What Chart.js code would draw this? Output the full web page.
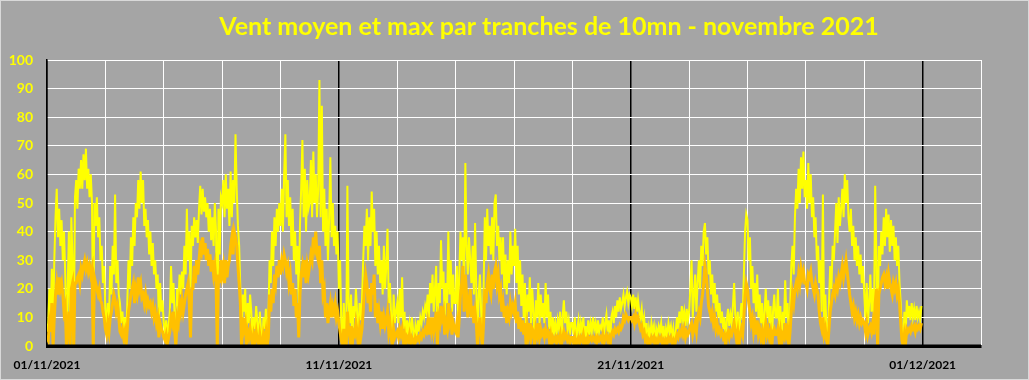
<!DOCTYPE html>
<html><head><meta charset="utf-8">
<script src="https://cdn.jsdelivr.net/npm/chart.js@4.4.0/dist/chart.umd.min.js"></script>
<style>html,body{margin:0;padding:0;background:#a5a5a5;}canvas{display:block;}</style>
</head><body>
<canvas id="c" width="1029" height="380"></canvas>
<script>
const chartTitle = 'Vent moyen et max par tranches de 10mn - novembre 2021';
const dateLabels = ['01/11/2021', '11/11/2021', '21/11/2021', '01/12/2021'];
const yTicks = [0, 10, 20, 30, 40, 50, 60, 70, 80, 90, 100];
const pointsPerDay = 24;

// Vent max (km/h), one value per hour, one line per day (1 → 30 novembre)
const ventMax = [
5,8,20,10,27,8,30,45,55,38,48,35,44,30,40,25,0,20,40,0,45,30,0,52,
58,48,62,55,65,55,67,58,69,55,62,52,60,50,0,50,42,52,38,45,30,35,22,28,
12,8,15,10,28,18,35,25,53,22,30,18,15,8,12,5,10,0,15,30,20,38,28,45,
35,50,45,58,48,61,50,58,42,48,38,44,32,40,28,36,25,30,20,25,10,22,12,16,
8,5,9,4,7,12,28,15,22,10,0,20,14,25,18,26,20,35,25,48,30,40,20,42,
35,45,38,44,36,48,56,46,55,47,52,45,50,40,48,37,45,35,50,40,0,48,32,52,
50,58,45,60,48,55,42,61,45,58,50,74,55,42,35,20,0,18,12,20,0,15,8,18,
12,0,10,6,14,8,0,12,5,0,10,6,13,0,8,30,22,40,28,45,35,48,40,50,
42,55,40,60,74,45,58,42,52,35,48,30,40,25,35,15,42,55,72,45,62,40,58,48,
50,65,45,68,50,60,45,55,93,45,84,40,55,35,48,30,45,66,38,50,35,42,32,40,
20,30,8,0,15,5,0,56,15,8,18,0,14,10,20,12,0,15,9,16,30,42,35,48,
30,45,35,54,40,48,28,40,25,35,22,30,18,35,20,28,41,15,22,10,0,18,8,12,
15,8,20,10,24,6,12,0,9,5,8,3,10,6,0,7,4,9,5,10,8,12,10,14,
12,18,10,22,15,25,12,20,28,0,22,15,37,20,26,10,22,15,40,18,30,12,25,15,
15,28,10,25,40,30,38,20,64,35,25,38,30,22,35,18,43,20,0,18,25,12,0,20,
45,30,48,35,42,32,45,30,50,53,35,42,30,38,25,38,20,32,18,30,22,40,25,35,
28,41,22,35,18,30,14,25,10,22,0,18,12,24,8,20,12,0,16,10,22,8,18,10,
15,8,22,10,18,6,12,0,10,5,8,4,9,6,12,0,10,16,8,12,6,9,4,8,
8,4,10,0,6,9,3,8,5,10,3,7,0,9,4,8,5,10,6,8,3,9,5,7,
6,10,4,8,11,5,9,0,10,12,8,14,10,16,12,17,13,15,18,14,17,19,15,18,
17,14,18,13,17,12,16,12,10,13,7,10,4,8,0,6,3,8,5,7,0,6,4,7,
5,8,3,7,0,6,4,8,5,7,3,6,0,5,10,6,12,8,14,9,12,7,13,9,
12,20,30,10,18,25,12,22,30,20,35,28,40,43,32,38,25,30,18,25,15,22,12,18,
10,15,8,12,6,10,0,9,13,7,11,8,14,22,10,6,12,0,10,15,9,25,40,46,
44,30,38,20,28,15,22,12,25,10,18,8,15,0,12,20,10,16,8,14,0,12,18,10,
10,20,6,14,0,12,8,23,10,15,0,12,28,35,25,45,55,48,62,50,66,55,68,52,
58,48,64,50,60,45,52,38,45,30,35,22,30,12,53,8,18,5,0,15,28,20,35,30,
40,50,36,52,42,48,55,45,60,50,58,45,40,48,35,42,30,38,28,35,25,32,22,28,
18,10,22,8,15,25,12,20,10,56,30,0,35,28,40,32,45,35,48,38,46,33,44,35,
42,30,38,28,35,22,15,5,0,12,3,16,10,14,9,15,10,13,9,14,10,12,9,14
];

// Vent moyen (km/h), one value per hour, one line per day
const ventMoyen = [
3,2,8,5,15,0,10,18,22,18,24,20,22,18,12,14,0,8,12,0,20,22,0,22,
22,24,25,22,27,25,28,30,27,29,26,28,25,27,0,24,22,20,18,20,16,15,12,10,
6,4,8,5,10,12,15,18,16,12,14,10,5,4,6,3,5,0,6,12,15,18,20,22,
15,20,18,24,20,22,17,18,15,18,14,16,14,15,12,14,10,12,8,10,3,8,6,5,
3,2,4,1,3,5,10,8,12,5,0,10,8,15,12,16,12,15,18,20,22,15,3,20,
20,28,22,30,25,30,35,33,38,32,36,30,34,28,32,26,30,25,28,22,0,25,22,30,
25,28,22,30,24,28,30,35,38,32,40,38,35,28,22,15,0,10,6,8,0,5,3,6,
3,0,4,2,5,2,0,4,1,0,4,2,5,0,3,18,12,20,15,25,22,28,24,30,
25,30,28,32,30,26,28,22,25,18,22,14,20,10,15,3,18,25,28,24,30,22,28,25,
28,32,30,38,35,40,32,30,35,22,30,18,20,10,15,8,12,15,10,14,12,15,10,12,
8,5,2,0,6,2,0,12,6,3,7,0,5,4,8,5,0,6,3,6,12,20,25,22,
15,20,12,22,18,25,10,15,8,12,8,12,6,10,7,9,12,5,8,3,0,6,3,4,
5,3,6,4,6,2,4,0,3,2,4,1,3,2,0,3,2,3,2,4,3,5,4,6,
5,8,4,10,6,10,5,8,12,0,10,8,14,10,12,4,8,6,15,8,10,4,8,6,
5,8,3,10,18,22,28,12,25,18,10,15,20,10,14,8,12,8,0,6,10,4,0,8,
20,15,22,25,20,18,25,20,26,28,22,25,18,20,12,15,10,14,8,12,10,15,12,14,
12,15,8,12,6,10,5,9,4,8,0,7,4,8,3,6,5,0,6,4,8,3,6,4,
5,3,6,4,5,2,4,0,3,2,3,1,3,2,4,0,3,5,3,4,2,3,1,3,
3,1,3,0,2,3,1,3,2,4,1,2,0,3,2,3,2,3,2,3,1,3,2,3,
2,4,1,3,4,2,3,0,4,5,4,6,5,6,5,7,6,7,10,9,11,10,9,10,
10,9,10,8,11,9,10,8,6,7,4,5,2,3,0,2,1,3,2,3,0,2,1,3,
2,3,1,2,0,2,1,3,2,3,1,2,0,2,4,3,5,4,6,4,6,3,5,4,
5,7,8,4,6,8,5,10,12,10,15,18,22,28,25,20,14,12,10,12,8,10,6,8,
5,6,4,5,3,4,0,4,5,3,5,4,6,8,5,2,5,0,4,6,4,10,18,22,
20,15,12,8,10,5,8,4,9,4,6,3,5,0,5,8,4,6,3,5,0,5,6,4,
4,6,2,5,0,4,3,8,4,6,0,5,12,18,15,20,22,20,25,22,27,24,26,22,
22,20,25,24,26,22,20,18,22,20,18,12,8,6,10,4,6,2,0,6,12,15,18,20,
18,22,20,24,22,25,28,24,27,30,26,22,18,15,12,14,10,12,9,11,8,10,8,9,
8,5,8,4,6,7,5,8,4,15,20,0,18,20,22,24,25,22,24,20,25,22,20,18,
22,20,22,18,20,15,8,2,0,4,1,6,5,6,5,7,6,7,5,7,6,7,6,8
];

const toPoints = arr => arr.map((v, i) => ({ x: i / pointsPerDay, y: v }));

const decor = {
  id: 'decor',
  beforeDraw(chart) {
    const { ctx, width, height } = chart;
    ctx.save();
    ctx.fillStyle = '#a5a5a5';
    ctx.fillRect(0, 0, width, height);
    ctx.strokeStyle = '#d9d9d9';
    ctx.lineWidth = 1;
    ctx.strokeRect(0.5, 0.5, width - 1, height - 1);
    ctx.restore();
  },
  afterDatasetsDraw(chart) {
    const { ctx, chartArea, scales } = chart;
    const y0 = scales.y.getPixelForValue(0);
    ctx.save();
    ctx.strokeStyle = '#000';
    ctx.lineWidth = 3;
    ctx.beginPath();
    ctx.moveTo(chartArea.left, y0);
    ctx.lineTo(chartArea.right, y0);
    ctx.stroke();
    ctx.restore();
  },
  afterDraw(chart) {
    const { ctx } = chart;
    ctx.save();
    ctx.fillStyle = '#ffff00';
    ctx.font = 'bold 25px Lato';
    ctx.textAlign = 'center';
    ctx.textBaseline = 'alphabetic';
    ctx.fillText(chartTitle, 549, 35);
    ctx.restore();
  }
};

new Chart(document.getElementById('c'), {
  type: 'line',
  data: {
    datasets: [
      { label: 'Vent moyen', data: toPoints(ventMoyen), borderColor: '#ffc000', borderWidth: 3, pointRadius: 0, tension: 0, order: 0 },
      { label: 'Vent max', data: toPoints(ventMax), borderColor: '#ffff00', borderWidth: 2, pointRadius: 0, tension: 0, order: 1 }
    ]
  },
  options: {
    responsive: false,
    animation: false,
    layout: { padding: { top: 60, right: 48, bottom: 0, left: 0 } },
    plugins: { legend: { display: false }, tooltip: { enabled: false }, title: { display: false } },
    scales: {
      x: {
        type: 'linear', min: 0, max: 32,
        afterFit(s) { s.height = 34; },
        grid: {
          color: c => (c.tick && c.tick.value % 10 === 0) ? '#000000' : '#ffffff',
          lineWidth: c => (c.tick && c.tick.value % 10 === 0) ? 1.5 : 1,
          drawTicks: false
        },
        border: { color: '#000', width: 3 },
        ticks: {
          stepSize: 2, autoSkip: false, maxRotation: 0, padding: 12,
          color: '#000', font: { family: 'Lato', weight: 'bold', size: 12 },
          callback: v => (v % 10 === 0) ? dateLabels[v / 10] : ''
        }
      },
      y: {
        min: yTicks[0], max: yTicks[yTicks.length - 1],
        afterFit(s) { s.width = 47; },
        grid: { color: '#ffffff', lineWidth: 1, drawTicks: false },
        border: { color: '#000', width: 1.5 },
        ticks: {
          stepSize: 10, padding: 14, color: '#ffff00',
          font: { family: 'Lato', weight: 'bold', size: 14 }
        }
      }
    }
  },
  plugins: [decor]
});
</script>
</body></html>
